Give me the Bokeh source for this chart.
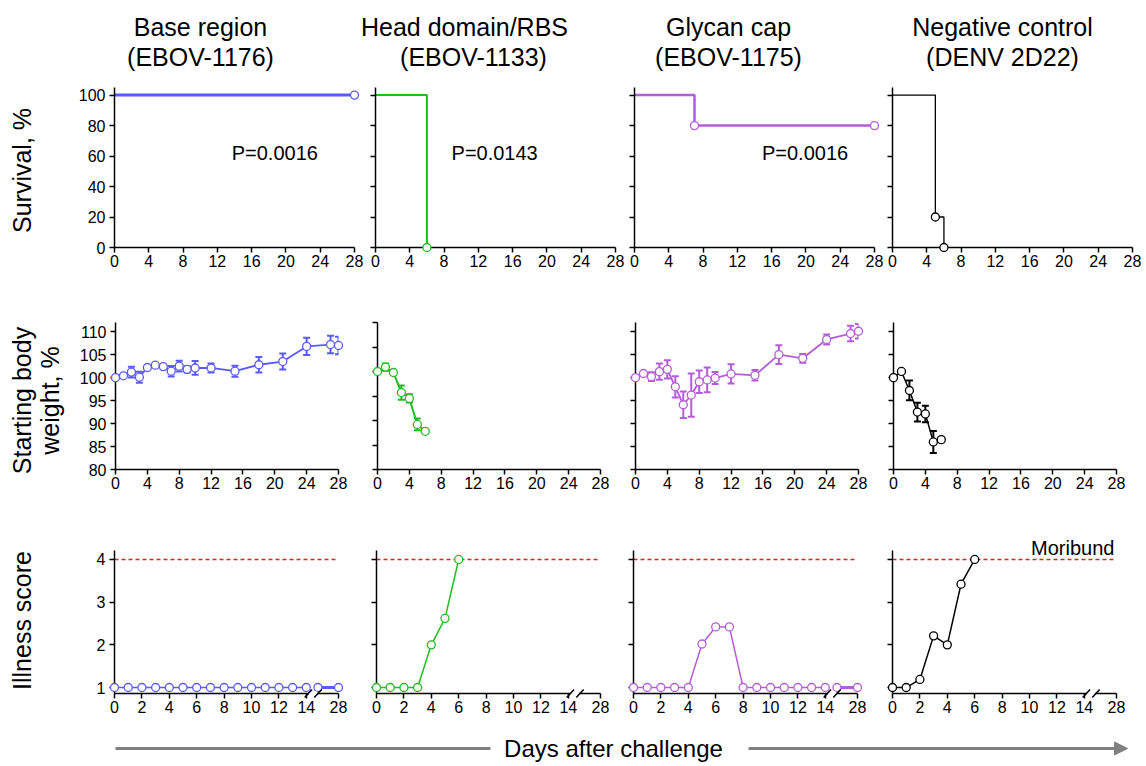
import numpy as np
from bokeh.plotting import figure
from bokeh.models import (Range1d, FixedTicker, CustomJSTickFormatter, ColumnDataSource,
                          Whisker, TeeHead, Arrow, NormalHead)
from bokeh.layouts import row, column
from bokeh.core.properties import value
from bokeh.embed import file_html
from bokeh.resources import INLINE

FONT = "Liberation Sans"

# ---------------- data ----------------
titles_line1 = ["Base region", "Head domain/RBS", "Glycan cap", "Negative control"]
titles_line2 = ["(EBOV-1176)", "(EBOV-1133)", "(EBOV-1175)", "(DENV 2D22)"]
colors = ["#5a5aff", "#22bb22", "#b45dd8", "#000000"]

row_labels = ["Survival, %", "Starting body", "weight, %", "Illness score"]
x_axis_label = "Days after challenge"
moribund_label = "Moribund"

# survival curves (Kaplan-Meier steps)
surv_days = [[0, 28], [0, 6], [0, 7, 28], [0, 5, 6]]
surv_vals = [[100, 100], [100, 0], [100, 80, 80], [100, 20, 0]]
surv_mark_days = [[28], [6], [7, 28], [5, 6]]
surv_mark_vals = [[100], [0], [80, 80], [20, 0]]
p_values = ["P=0.0016", "P=0.0143", "P=0.0016", ""]
surv_ticks_y = [0, 20, 40, 60, 80, 100]
ticks_x_days = [0, 4, 8, 12, 16, 20, 24, 28]

# body weight (% of starting), mean and error
w_days = [
    [0, 1, 2, 3, 4, 5, 6, 7, 8, 9, 10, 12, 15, 18, 21, 24, 27, 28],
    [0, 1, 2, 3, 4, 5, 6],
    [0, 1, 2, 3, 4, 5, 6, 7, 8, 9, 10, 12, 15, 18, 21, 24, 27, 28],
    [0, 1, 2, 3, 4, 5, 6],
]
w_mean = [
    [100.0, 100.4, 101.2, 100.1, 102.2, 102.7, 102.4, 101.4, 102.5, 101.8, 102.1, 102.1,
     101.4, 102.8, 103.5, 106.8, 107.2, 107.0],
    [100.0, 100.9, 99.8, 95.7, 94.5, 89.2, 87.8],
    [100.0, 100.9, 100.2, 101.3, 101.8, 98.0, 94.1, 96.2, 99.1, 99.5, 99.9, 100.8,
     100.5, 105.0, 104.2, 108.3, 109.6, 110.1],
    [100.0, 101.35, 97.2, 92.5, 92.1, 86.0, 86.5],
]
w_err = [
    [0, 0, 1.15, 1.2, 0, 0, 0, 1.15, 1.15, 0.7, 1.5, 1.0, 1.2, 1.7, 1.75, 1.9, 1.9, 1.9],
    [0, 0.75, 0, 1.45, 0.85, 1.2, 0],
    [0, 0, 0.95, 1.75, 2.0, 2.3, 2.9, 4.7, 2.45, 2.7, 1.3, 2.1, 1.15, 2.05, 0.95, 1.1, 1.7, 1.6],
    [0, 0, 2.15, 2.05, 1.8, 2.4, 0],
]
w_ylim = [(80, 112), (80, 110), (80, 112), (80, 112)]
weight_ticks_y = [80, 85, 90, 95, 100, 105, 110]

# illness score
ill_days = [
    [0, 1, 2, 3, 4, 5, 6, 7, 8, 9, 10, 11, 12, 13, 14, 15, 28],
    [0, 1, 2, 3, 4, 5, 6],
    [0, 1, 2, 3, 4, 5, 6, 7, 8, 9, 10, 11, 12, 13, 14, 15, 28],
    [0, 1, 2, 3, 4, 5, 6],
]
ill_score = [
    [1, 1, 1, 1, 1, 1, 1, 1, 1, 1, 1, 1, 1, 1, 1, 1, 1],
    [1, 1, 1, 1, 2.0, 2.62, 4.0],
    [1, 1, 1, 1, 1, 2.02, 2.42, 2.42, 1, 1, 1, 1, 1, 1, 1, 1, 1],
    [1, 1, 1.19, 2.21, 2.0, 3.42, 4.0],
]
moribund_score = 4
ill_ticks_y = [1, 2, 3, 4]
ill_ticks_days = [0, 2, 4, 6, 8, 10, 12, 14, 28]
ill_tick_labels = ["0", "2", "4", "6", "8", "10", "12", "14", "28"]

# broken x axis for illness panels: 0..14 linear, then 15..28 compressed
BREAK_DAY = 14
POST_D0, POST_D1 = 15, 28
POST_P0, POST_P1 = 14.85, 16.35


def brk(d):
    d = np.asarray(d, dtype=float)
    return np.where(d <= BREAK_DAY, d,
                    POST_P0 + (d - POST_D0) * (POST_P1 - POST_P0) / (POST_D1 - POST_D0))


# ---------------- helpers ----------------
def style_axes(p, show_y_labels, y_standoff=4):
    for ax in p.axis:
        ax.axis_line_width = 1.5
        ax.axis_line_color = "black"
        ax.major_tick_line_width = 1.5
        ax.major_tick_line_color = "black"
        ax.major_tick_out = 5
        ax.major_tick_in = 0
        ax.minor_tick_line_color = None
        ax.major_label_text_font = FONT
        ax.major_label_text_font_size = "16px"
        ax.major_label_text_color = "black"
    p.xaxis.major_label_standoff = 2
    if show_y_labels:
        p.yaxis.major_label_standoff = y_standoff
    else:
        p.yaxis.major_label_standoff = 0
        p.yaxis.formatter = CustomJSTickFormatter(code="return ''")


def make_fig(fw, fh, xr, yr, bl, br, bt, bb):
    p = figure(frame_width=fw, frame_height=fh, x_range=Range1d(*xr), y_range=Range1d(*yr),
               output_backend="svg", toolbar_location=None, title=None,
               min_border_left=bl, min_border_right=br, min_border_top=bt, min_border_bottom=bb)
    p.outline_line_color = None
    p.grid.visible = False
    p.background_fill_color = "white"
    p.border_fill_color = "white"
    return p


def blank_fig(w, h):
    p = figure(width=w, height=h, x_range=Range1d(0, w), y_range=Range1d(h, 0),
               output_backend="svg", toolbar_location=None, title=None,
               x_axis_type=None, y_axis_type=None,
               min_border_left=0, min_border_right=0, min_border_top=0, min_border_bottom=0)
    p.outline_line_color = None
    p.grid.visible = False
    return p


# ---------------- row 1: survival ----------------
r1_b = [(45, 12), (9, 10), (9, 9), (9, 9)]
r1_lw = [3, 2, 2.5, 1.3]
p_text_x = [18.7, 13.9, 19.9]
row1 = []
for i in range(4):
    bl, br = r1_b[i]
    p = make_fig(240, 160, (0, 28), (0, 105), bl, br, 9, 51)
    c = colors[i]
    p.step(surv_days[i], surv_vals[i], mode="after", line_color=c, line_width=r1_lw[i])
    p.scatter(surv_mark_days[i], surv_mark_vals[i], marker="circle", size=8,
              fill_color="white", line_color=c, line_width=1.3, level="overlay")
    if p_values[i]:
        p.text(x=[p_text_x[i]], y=[61.8], text=[p_values[i]], text_font=value(FONT),
               text_font_size="20px", text_align="center", text_baseline="middle",
               text_color="black")
    p.xaxis.ticker = FixedTicker(ticks=ticks_x_days, minor_ticks=[])
    p.yaxis.ticker = FixedTicker(ticks=surv_ticks_y, minor_ticks=[])
    style_axes(p, i == 0)
    row1.append(p)

# ---------------- row 2: body weight ----------------
r2_b = [(46, 30), (9, 26), (9, 26), (9, 22)]
r2_lw = [1.8, 2, 1.8, 1.5]
row2 = []
for i in range(4):
    bl, br = r2_b[i]
    p = make_fig(223, 147, (0, 28), w_ylim[i], bl, br, 24, 49)
    c = colors[i]
    d = np.array(w_days[i], dtype=float)
    m = np.array(w_mean[i], dtype=float)
    e = np.array(w_err[i], dtype=float)
    p.line(d, m, line_color=c, line_width=r2_lw[i])
    k = e > 0
    src = ColumnDataSource(dict(x=d[k], lower=m[k] - e[k], upper=m[k] + e[k]))
    p.add_layout(Whisker(source=src, base="x", lower="lower", upper="upper",
                         dimension="height", line_color=c, line_width=2,
                         upper_head=TeeHead(size=7, line_color=c, line_width=2),
                         lower_head=TeeHead(size=7, line_color=c, line_width=2)))
    p.scatter(d, m, marker="circle", size=8, fill_color="white", line_color=c,
              line_width=1.3, level="overlay")
    p.xaxis.ticker = FixedTicker(ticks=ticks_x_days, minor_ticks=[])
    p.yaxis.ticker = FixedTicker(ticks=weight_ticks_y, minor_ticks=[])
    style_axes(p, i == 0)
    row2.append(p)

# ---------------- row 3: illness score ----------------
r3_b = [(45, 29), (9, 24), (9, 26), (9, 22)]
ill_tick_pos = [float(v) for v in brk(ill_ticks_days)]
y_bot = 0.86
row3 = []
for i in range(4):
    bl, br = r3_b[i]
    p = make_fig(224, 143, (0, POST_P1), (y_bot, 4.21), bl, br, 32, 27)
    c = colors[i]
    d = np.array(ill_days[i], dtype=float)
    s = np.array(ill_score[i], dtype=float)
    xp = brk(d)
    # moribund threshold
    p.line([0, 16.2], [moribund_score, moribund_score], line_color="#ee1c24",
           line_width=1.5, line_dash="4 3")
    pre = d <= BREAK_DAY
    post = d >= POST_D0
    p.line(xp[pre], s[pre], line_color=c, line_width=1.5)
    if post.sum() > 1:
        p.line(xp[post], s[post], line_color=c, line_width=3)
    p.scatter(xp, s, marker="circle", size=8, fill_color="white", line_color=c,
              line_width=1.3, level="overlay")
    # axis break marks
    p.segment(x0=[14.2], y0=[y_bot], x1=[14.8], y1=[y_bot], line_color="white",
              line_width=4, level="overlay")
    p.segment(x0=[14.15 - 0.27, 14.85 - 0.27], y0=[y_bot - 0.095, y_bot - 0.095],
              x1=[14.15 + 0.27, 14.85 + 0.27], y1=[y_bot + 0.095, y_bot + 0.095],
              line_color="black", line_width=1.5, level="overlay")
    if i == 3:
        p.text(x=[16.2], y=[4.26], text=[moribund_label], text_font=value(FONT),
               text_font_size="20px", text_align="right", text_baseline="alphabetic",
               text_color="black", level="overlay")
    p.xaxis.ticker = FixedTicker(ticks=ill_tick_pos, minor_ticks=[])
    p.xaxis.major_label_overrides = {pos: lab for pos, lab in zip(ill_tick_pos, ill_tick_labels)}
    p.yaxis.ticker = FixedTicker(ticks=ill_ticks_y, minor_ticks=[])
    style_axes(p, i == 0, y_standoff=4)
    row3.append(p)

# ---------------- titles, side labels, bottom arrow ----------------
LEFT_W = 69
INNER_W = 1072
title_fig = blank_fig(INNER_W, 78)
t1_x = [131, 395, 659, 933]
t2_x = [131, 404, 659, 933]
title_fig.text(x=t1_x, y=[26] * 4, text=titles_line1, text_font=value(FONT),
               text_font_size="25px", text_align="center", text_baseline="alphabetic",
               text_color="black")
title_fig.text(x=t2_x, y=[56] * 4, text=titles_line2, text_font=value(FONT),
               text_font_size="25px", text_align="center", text_baseline="alphabetic",
               text_color="black")

left_fig = blank_fig(LEFT_W, 764)
left_fig.text(x=[21, 21, 49, 21], y=[170, 400, 400, 620], text=row_labels,
              text_font=value(FONT), text_font_size="25px", text_align="center",
              text_baseline="middle", angle=np.pi / 2, text_color="black")

bottom_fig = blank_fig(INNER_W, 44)
gray = "#808080"
bottom_fig.segment(x0=[46], y0=[28], x1=[421], y1=[28], line_color=gray, line_width=3)
bottom_fig.add_layout(Arrow(end=NormalHead(size=13, fill_color=gray, line_color=gray),
                            x_start=679, y_start=28, x_end=1058, y_end=28,
                            line_color=gray, line_width=3))
bottom_fig.text(x=[544], y=[28], text=[x_axis_label], text_font=value(FONT),
                text_font_size="24px", text_align="center", text_baseline="middle",
                text_color="black")

layout = row(left_fig, column(title_fig, row(*row1), row(*row2), row(*row3), bottom_fig))

open("out.html", "w").write(file_html(layout, INLINE))
